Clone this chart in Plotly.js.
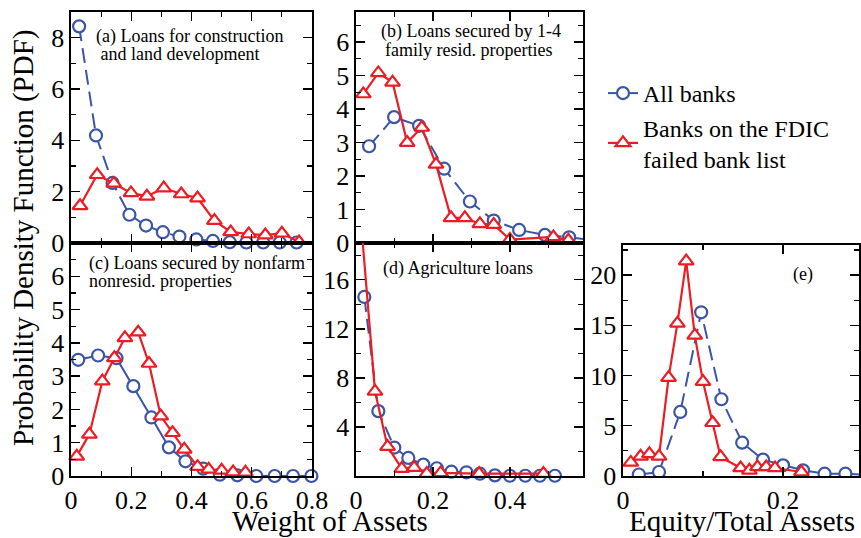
<!DOCTYPE html>
<html>
<head>
<meta charset="utf-8">
<script src="https://cdn.plot.ly/plotly-3.0.1.min.js"></script>
<style>html,body{margin:0;padding:0;background:#fff;}#chart{width:861px;height:538px;}</style>
</head>
<body>
<div id="chart"></div>
<script>
// ---- data ----
const seriesNames = ["All banks", "Banks on the FDIC<br>failed bank list"];

// (a) Loans for construction and land development
const aX_all  = [0.027,0.083,0.138,0.194,0.249,0.305,0.36,0.416,0.471,0.527,0.582,0.638,0.693,0.749];
const aY_all  = [8.44,4.19,2.34,1.10,0.68,0.42,0.25,0.14,0.08,0.03,0.02,0.02,0.02,0.02];
const aX_fail = [0.03,0.087,0.142,0.199,0.252,0.308,0.366,0.42,0.476,0.53,0.59,0.645,0.70,0.757,0.81];
const aY_fail = [1.45,2.66,2.32,1.95,1.82,2.14,1.91,1.75,0.87,0.43,0.35,0.31,0.38,0.04,0.0];

// (b) Loans secured by 1-4 family resid. properties
const bX_all  = [0.034,0.099,0.164,0.229,0.296,0.358,0.424,0.491,0.554,0.62];
const bY_all  = [2.89,3.76,3.50,2.22,1.24,0.67,0.39,0.24,0.17,0.08];
const bX_fail = [0.019,0.058,0.095,0.133,0.171,0.208,0.247,0.283,0.322,0.358,0.40,0.513,0.552];
const bY_fail = [4.45,5.08,4.8,3.0,3.45,2.35,0.75,0.75,0.57,0.55,0.1,0.18,0.08];

// (c) Loans secured by nonfarm nonresid. properties
const cX_all  = [0.024,0.09,0.151,0.207,0.267,0.325,0.38,0.439,0.494,0.552,0.615,0.676,0.737,0.798];
const cY_all  = [3.49,3.62,3.54,2.70,1.76,0.86,0.44,0.22,0.04,0.02,0.0,0.0,0.0,0.0];
const cX_fail = [0.019,0.061,0.104,0.144,0.179,0.223,0.259,0.298,0.337,0.376,0.42,0.457,0.5,0.538,0.579];
const cY_fail = [0.59,1.25,2.85,3.55,4.15,4.32,3.38,1.8,1.3,0.8,0.28,0.2,0.17,0.12,0.11];

// (d) Agriculture loans
const dX_all  = [0.0216,0.058,0.0996,0.136,0.175,0.21,0.248,0.287,0.322,0.361,0.40,0.44,0.478,0.517];
const dY_all  = [14.6,5.29,2.32,1.47,0.93,0.63,0.35,0.3,0.19,0.05,0.02,0.02,0.02,0.02];
const dX_fail = [0.016,0.0494,0.082,0.119,0.151,0.184,0.22,0.32,0.487];
const dY_fail = [19.6,6.9,2.4,0.6,0.68,0.19,0.25,0.19,0.2];

// (e) Equity / Total Assets
const eX_all  = [0.0198,0.045,0.0716,0.0977,0.123,0.149,0.175,0.2,0.225,0.252,0.278,0.304];
const eY_all  = [0.15,0.4,6.38,16.3,7.64,3.32,1.63,1.06,0.56,0.23,0.23,0.1];
const eX_fail = [0.0097,0.022,0.033,0.045,0.057,0.068,0.079,0.0897,0.1,0.112,0.122,0.147,0.158,0.168,0.179,0.19,0.223];
const eY_fail = [1.35,1.95,2.2,1.95,9.8,15.2,21.4,14.0,9.4,5.3,1.9,0.8,0.56,0.9,0.9,0.8,0.4];

// tick values
const aYticks = [0,2,4,6,8];
const bYticks = [0,1,2,3,4,5,6];
const cYticks = [0,1,2,3,4,5,6];
const dYticks = [4,8,12,16];
const eYticks = [0,5,10,15,20];
const acXticks = [0,0.2,0.4,0.6,0.8];
const bdXticks = [0,0.2,0.4];
const eXticks = [0,0.2];

// panel labels
const panelLabels = ["(a) Loans for construction", " and land development",
  "(b) Loans secured by 1-4", "family resid. properties",
  "(c) Loans secured by nonfarm", "nonresid. properties",
  "(d) Agriculture loans", "(e)"];

// ---- styling ----
const BLUE = '#3a55a4', RED = '#ec1c24';
const FONT = 'Liberation Serif';
const W = 861, H = 538;
const px = v => v / W, py = v => 1 - v / H;

function blue(x, y, xa, ya, opts) {
  opts = opts || {};
  return {x: x, y: y, xaxis: xa, yaxis: ya, type: 'scatter', mode: 'lines+markers',
    name: seriesNames[0], showlegend: !!opts.legend, cliponaxis: !!opts.clip,
    line: {color: BLUE, width: 2, dash: opts.solid ? 'solid' : '15px,7px'},
    marker: {symbol: 'circle', size: 12, color: '#fff', line: {color: BLUE, width: 2.2}}};
}
function red(x, y, xa, ya, opts) {
  opts = opts || {};
  return {x: x, y: y, xaxis: xa, yaxis: ya, type: 'scatter', mode: 'lines+markers',
    name: seriesNames[1], showlegend: !!opts.legend, cliponaxis: !!opts.clip,
    line: {color: RED, width: 2.2},
    marker: {symbol: 'triangle-up', size: 13, color: '#fff', line: {color: RED, width: 2.2}}};
}

const traces = [
  blue(cX_all, cY_all, 'x3', 'y3', {solid: true, legend: true}),
  red(cX_fail, cY_fail, 'x3', 'y3', {legend: true}),
  blue(aX_all, aY_all, 'x', 'y'),
  red(aX_fail, aY_fail, 'x', 'y', {clip: true}),
  blue(bX_all, bY_all, 'x2', 'y2', {clip: true}),
  red(bX_fail, bY_fail, 'x2', 'y2'),
  blue(dX_all, dY_all, 'x4', 'y4'),
  red(dX_fail, dY_fail, 'x4', 'y4', {clip: true}),
  blue(eX_all, eY_all, 'x5', 'y5', {clip: true}),
  red(eX_fail, eY_fail, 'x5', 'y5')
];

function axis(domain, range, tickvals, minorDtick, showLabels, anchor) {
  return {domain: domain, range: range, anchor: anchor, tickvals: tickvals,
    showticklabels: showLabels, ticks: 'inside', ticklen: 9, tickwidth: 1.4, tickcolor: '#000',
    minor: {dtick: minorDtick, ticks: 'inside', ticklen: 5, tickwidth: 1.2, tickcolor: '#000', showgrid: false},
    showline: true, linecolor: '#000', linewidth: 1.6, mirror: 'allticks',
    showgrid: false, zeroline: false, fixedrange: true,
    tickfont: {family: FONT, size: 26, color: '#000'}};
}

const xAC = [px(71), px(312)], xBD = [px(356), px(583)], xE = [px(623), px(859)];
const yTop = [py(243), py(12)], yBot = [py(476), py(243)], yE = [py(476), py(245)];

const layout = {
  width: W, height: H, margin: {l: 0, r: 0, t: 0, b: 0},
  paper_bgcolor: '#fff', plot_bgcolor: '#fff',
  font: {family: FONT, color: '#000'},
  showlegend: true,
  legend: {x: px(603), y: py(71), xanchor: 'left', yanchor: 'top', bgcolor: 'rgba(0,0,0,0)',
    font: {family: FONT, size: 24, color: '#000'}, itemwidth: 30, tracegroupgap: 0},
  xaxis:  axis(xAC, [0, 0.8], acXticks, 0.1, false, 'y'),
  yaxis:  axis(yTop, [0, 9], aYticks, 1, true, 'x'),
  xaxis2: axis(xBD, [0, 0.59], bdXticks, 0.1, false, 'y2'),
  yaxis2: axis(yTop, [0, 6.9], bYticks, 0.5, true, 'x2'),
  xaxis3: axis(xAC, [0, 0.8], acXticks, 0.1, true, 'y3'),
  yaxis3: axis(yBot, [0, 7], cYticks, 0.5, true, 'x3'),
  xaxis4: axis(xBD, [0, 0.59], bdXticks, 0.1, true, 'y4'),
  yaxis4: axis(yBot, [0, 19], dYticks, 2, true, 'x4'),
  xaxis5: axis(xE, [0, 0.295], eXticks, 0.1, true, 'y5'),
  yaxis5: axis(yE, [0, 23], eYticks, 2.5, true, 'x5'),
  annotations: [
    {text: 'Probability Density Function (PDF)', x: px(23), y: py(238), textangle: -90, font: {size: 29}},
    {text: 'Weight of Assets', x: px(330), y: 0, yanchor: 'bottom', font: {size: 29}},
    {text: 'Equity/Total Assets', x: px(742), y: 0, yanchor: 'bottom', font: {size: 29}},
    {text: panelLabels[0], x: px(95), y: py(36), xanchor: 'left', font: {size: 18}},
    {text: panelLabels[1], x: px(95), y: py(54), xanchor: 'left', font: {size: 18}},
    {text: panelLabels[2], x: px(471), y: py(32), font: {size: 18}},
    {text: panelLabels[3], x: px(468), y: py(50), font: {size: 18}},
    {text: panelLabels[4], x: px(88), y: py(263), xanchor: 'left', font: {size: 18}},
    {text: panelLabels[5], x: px(88), y: py(281), xanchor: 'left', font: {size: 18}},
    {text: panelLabels[6], x: px(382), y: py(268), xanchor: 'left', font: {size: 18}},
    {text: panelLabels[7], x: px(803), y: py(274), font: {size: 18}}
  ].map(a => Object.assign({xref: 'paper', yref: 'paper', showarrow: false, xanchor: 'center', yanchor: 'middle', borderpad: 0}, a,
        {font: Object.assign({family: FONT, color: '#000'}, a.font)}))
};

Plotly.newPlot('chart', traces, layout, {staticPlot: true, displayModeBar: false});
</script>
</body>
</html>
